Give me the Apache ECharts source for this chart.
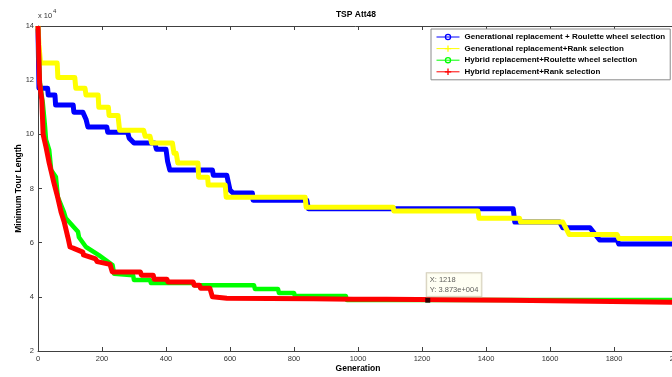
<!DOCTYPE html>
<html><head><meta charset="utf-8">
<script src="https://cdn.jsdelivr.net/npm/echarts@6/dist/echarts.min.js"></script>
<style>html,body{margin:0;padding:0;background:#fff}#c{width:672px;height:377px}</style>
</head><body><div id="c"></div>
<script>
const seriesNames = [
  'Generational replacement + Roulette wheel selection',
  'Generational replacement+Rank selection',
  'Hybrid replacement+Roulette wheel selection',
  'Hybrid replacement+Rank selection'
];
const seriesColors = ['#0000ff', '#ffff00', '#00ff00', '#ff0000'];

const blueGen = [0,3,30,32,53,55,110,112,140,150,156,215,218,280,285,300,365,370,400,405,412,545,548,590,600,610,670,672,840,845,1485,1490,1630,1640,1725,1755,1810,1815,2000];
const blueVal = [139000,117000,117000,114500,114500,110800,110800,108200,108200,105600,102700,102700,100800,100800,98600,96800,96800,94500,94500,90000,86800,86800,84900,84900,79400,78300,78300,75700,75700,72500,72500,67600,67600,65500,65500,61000,61000,59500,59500];

const yellowGen = [0,3,8,60,62,115,118,147,150,188,190,220,222,250,255,330,335,350,355,420,425,432,437,500,502,530,532,585,588,835,838,1110,1112,1375,1378,1505,1508,1640,1660,1810,1815,2000];
const yellowVal = [140000,133000,126300,126300,121000,121000,117000,117000,114500,114500,110000,110000,107000,107000,101500,101500,99300,99300,96800,96800,93000,93000,89400,89400,84200,84200,81300,81300,76800,76800,73100,73100,71700,71700,69000,69000,67600,67600,63000,63000,61500,61500];

const greenGen = [0,3,6,15,22,25,35,41,56,62,81,87,125,128,150,190,193,233,238,297,300,350,353,485,488,675,678,750,753,800,803,962,965,2000];
const greenVal = [140000,128000,119000,111500,102700,98000,94200,86800,84200,76800,71300,69000,64000,62000,58400,55400,54700,51700,48500,48000,46200,46200,45100,45100,44300,44300,42900,42900,41400,41400,40300,40300,38800,38800];

const redGen = [0,5,12,16,25,35,50,62,72,82,94,100,110,140,142,180,185,225,232,320,323,360,363,403,406,485,488,505,508,537,545,590,860,985,1088,1092,1478,1482,2000];
const redVal = [140000,119000,112600,100000,95300,89400,82000,76500,71300,67600,61700,58400,58000,56500,55500,54000,53000,52000,49200,49200,48000,48000,46500,46500,45500,45500,44300,44300,43200,43200,40000,39500,39300,39100,39100,38730,38730,38000,38000];

const tipGen = 1218;
const tipVal = 38730;

const xTicks = { min: 0, max: 2000, interval: 200 };
const yTicks = { min: 20000, max: 140000, interval: 20000, scale: 10000 };

const FONT = '"Liberation Sans", Arial, sans-serif';
const ring = 'path://M5,0A5,5,0,1,1,5,10A5,5,0,1,1,5,0ZM5,2A3,3,0,1,0,5,8A3,3,0,1,0,5,2Z';
const plus = 'path://M4,0h2v4h4v2h-4v4h-2v-4h-4v-2h4z';

function pairs(g, v) { return g.map((x, i) => [x, v[i]]); }
function matlabExp(v) {
  const s = v.toExponential(3);
  const [m, e] = s.split('e');
  const sign = e[0] === '-' ? '-' : '+';
  const d = e.replace(/[+-]/, '').padStart(3, '0');
  return m + 'e' + sign + d;
}

const allData = [
  pairs(blueGen, blueVal),
  pairs(yellowGen, yellowVal),
  pairs(greenGen, greenVal),
  pairs(redGen, redVal)
];
const symbols = [ring, plus, ring, plus];
const symSizes = [6, 7, 6, 7];
const widths = [5, 5, 4.5, 5];

const chart = echarts.init(document.getElementById('c'), null, { renderer: 'canvas' });
const axisColor = '#404040';
const lineSeries = seriesNames.map((n, i) => ({
  name: n, type: 'line', data: allData[i],
  symbol: symbols[i], symbolSize: symSizes[i], showSymbol: false,
  lineStyle: { width: widths[i], color: seriesColors[i], join: 'round' },
  itemStyle: { color: seriesColors[i] },
  emphasis: { disabled: true }, silent: true, animation: false
}));

chart.setOption({
  animation: false,
  backgroundColor: '#fff',
  grid: { left: 38, top: 26, right: -6, bottom: 26, containLabel: false, outerBoundsMode: 'none' },
  legend: {
    data: seriesNames, orient: 'vertical', left: 431, top: 29,
    itemWidth: 23, itemHeight: 8, itemGap: 3.6,
    padding: [4, 5, 4, 5], backgroundColor: '#fff', borderColor: '#8a8a8a', borderWidth: 1,
    textStyle: { fontFamily: FONT, fontSize: 8, fontWeight: 'bold', color: '#000' },
    lineStyle: { width: 1 }, selectedMode: false
  },
  xAxis: [{
    type: 'value', min: xTicks.min, max: xTicks.max, interval: xTicks.interval,
    name: 'Generation', nameLocation: 'middle', nameGap: 13, nameMoveOverlap: false,
    nameTextStyle: { fontFamily: FONT, fontSize: 8.5, fontWeight: 'bold', color: '#000' },
    axisLine: { show: true, onZero: false, lineStyle: { color: axisColor, width: 1 } },
    axisTick: { show: true, inside: true, length: 4, lineStyle: { color: axisColor } },
    axisLabel: { fontFamily: FONT, fontSize: 7.5, color: '#333', margin: 4, hideOverlap: false,
      formatter: v => String(v) },
    splitLine: { show: false }
  }, {
    type: 'value', position: 'top', min: xTicks.min, max: xTicks.max, interval: xTicks.interval,
    axisLine: { show: true, onZero: false, lineStyle: { color: axisColor, width: 1 } },
    axisTick: { show: true, inside: true, length: 4, lineStyle: { color: axisColor } },
    axisLabel: { show: false }, splitLine: { show: false }
  }],
  yAxis: [{
    type: 'value', min: yTicks.min, max: yTicks.max, interval: yTicks.interval,
    name: 'Minimum Tour Length', nameLocation: 'middle', nameGap: 15, nameMoveOverlap: false,
    nameTextStyle: { fontFamily: FONT, fontSize: 8.5, fontWeight: 'bold', color: '#000' },
    axisLine: { show: true, onZero: false, lineStyle: { color: axisColor, width: 1 } },
    axisTick: { show: true, inside: true, length: 4, lineStyle: { color: axisColor } },
    axisLabel: { fontFamily: FONT, fontSize: 7.5, color: '#333', margin: 4,
      formatter: v => String(v / yTicks.scale) },
    splitLine: { show: false }
  }],
  graphic: [
    { type: 'text', x: 356, y: 10, silent: true,
      style: { text: 'TSP Att48', fontFamily: FONT, fontSize: 8.5, fontWeight: 'bold', fill: '#000', align: 'center', verticalAlign: 'top' } },
    { type: 'text', x: 38, y: 12, silent: true,
      style: { text: 'x 10', fontFamily: FONT, fontSize: 7.5, fill: '#333', align: 'left', verticalAlign: 'top' } },
    { type: 'text', x: 53, y: 8.5, silent: true,
      style: { text: '4', fontFamily: FONT, fontSize: 6, fill: '#333', align: 'left', verticalAlign: 'top' } }
  ],
  series: lineSeries.concat([{
    type: 'scatter', data: [[tipGen, tipVal]], symbol: 'rect', symbolSize: 5,
    itemStyle: { color: '#000' }, z: 10, silent: true, animation: false,
    label: {
      show: true, position: [1.5, -1.5], align: 'left', verticalAlign: 'bottom',
      formatter: p => 'X: ' + p.value[0] + '\nY: ' + matlabExp(p.value[1]),
      fontFamily: FONT, fontSize: 7.5, lineHeight: 10, color: '#333',
      backgroundColor: '#fffff0', borderColor: '#c8c0a8', borderWidth: 1, padding: [2, 3, 1, 3]
    }
  }])
});
</script>
</body></html>
